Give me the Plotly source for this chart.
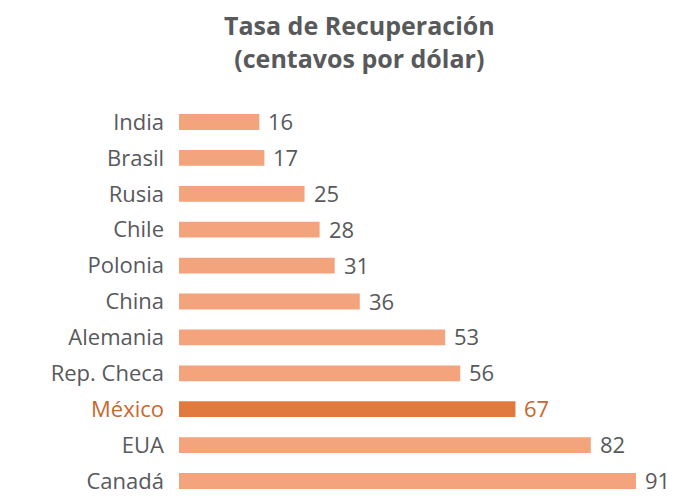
import plotly.graph_objects as go

countries = ["India", "Brasil", "Rusia", "Chile", "Polonia", "China", "Alemania",
             "Rep. Checa", "México", "EUA", "Canadá"]
values = [16, 17, 25, 28, 31, 36, 53, 56, 67, 82, 91]
highlight = "México"
title_lines = ["Tasa de Recuperación", "(centavos por dólar)"]

GRAY = "#58595b"
BAR = "#f3a47c"
HBAR = "#e07a3e"
HTEXT = "#c8672c"

bar_colors = [HBAR if c == highlight else BAR for c in countries]
tick_text = [f"<span style='color:{HTEXT}'>{c}</span>" if c == highlight else c for c in countries]

fig = go.Figure(go.Bar(
    x=values, y=countries, orientation="h",
    marker=dict(color=bar_colors, line=dict(width=0)),
    width=0.44,
    hoverinfo="skip",
))

for c, v in zip(countries, values):
    fig.add_annotation(
        x=v, y=c, text=str(v), showarrow=False,
        xanchor="left", xshift=7, yshift=1,
        font=dict(family="Open Sans", size=22, color=HTEXT if c == highlight else GRAY),
    )

fig.add_annotation(
    xref="paper", yref="paper", x=(359.5 - 179) / 495, y=1 + 94 / 396,
    xanchor="center", yanchor="top", showarrow=False,
    text="<b>" + "<br>".join(title_lines) + "</b>",
    font=dict(family="Open Sans", size=25, color=GRAY),
)

fig.update_layout(
    width=674, height=496,
    margin=dict(l=179, r=0, t=100, b=0, autoexpand=False),
    paper_bgcolor="white", plot_bgcolor="white",
    showlegend=False,
    xaxis=dict(range=[0, 495 / 5.022], visible=False, fixedrange=True),
    yaxis=dict(
        tickmode="array", tickvals=countries, ticktext=tick_text,
        range=[10.418, -0.613],
        showgrid=False, zeroline=False, showline=False, ticks="",
        ticklabelstandoff=14,
        tickfont=dict(family="Open Sans", size=22, color=GRAY),
    ),
)

fig.write_html(
    "out.html",
    config={"displayModeBar": False},
    post_script="document.body.style.margin='0';document.body.style.overflow='hidden';",
)
